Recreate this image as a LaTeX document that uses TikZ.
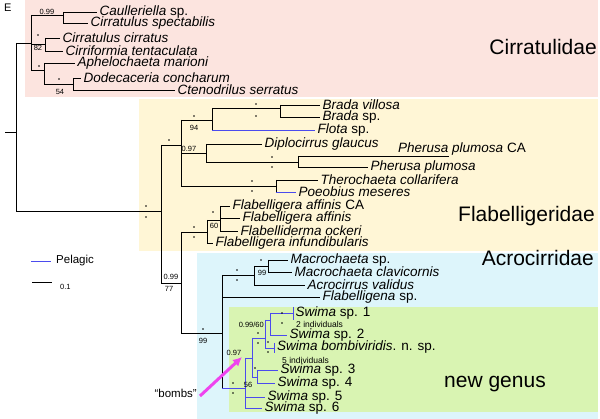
\documentclass[tikz,border=0pt]{standalone}
\usepackage{fontspec}
\setmainfont{Liberation Sans}
\usetikzlibrary{arrows.meta}
\begin{document}
\begin{tikzpicture}[x=1pt,y=-1pt,
  br/.style={line width=0.9pt,black},
  bl/.style={line width=0.9pt,color=pel},
  tl/.style={anchor=west,inner sep=0pt,font=\fontsize{13.5}{14}\selectfont\itshape},
  sl/.style={inner sep=0pt,font=\fontsize{7.5}{8}\selectfont},
  dt/.style={circle,fill=black,inner sep=0pt,minimum size=1.6pt},
  cl/.style={inner sep=0pt,font=\fontsize{21}{24}\selectfont}]
\definecolor{pel}{HTML}{4B4BEE}
\definecolor{pinkbg}{HTML}{FCE4DF}
\definecolor{yelbg}{HTML}{FFF6D6}
\definecolor{cyabg}{HTML}{DDF5FB}
\definecolor{grnbg}{HTML}{D9F4B2}
\definecolor{mag}{HTML}{EE44EE}
\useasboundingbox (0,0) rectangle (600,419);
\fill[pinkbg] (25,0) rectangle (598,97);
\fill[yelbg] (139,99) rectangle (598,251);
\fill[cyabg] (197,253) rectangle (598,419);
\fill[grnbg] (229,307) rectangle (598,412);
\newcommand\tipx[6][br]{\draw[#1] (#2,#4)--(#3,#4); \node[tl] (#6) at (#3+2.5,#4) {#5};}
\newcommand\dd[2]{\node[dt] at (#1,#2) {};}
\node[anchor=west,inner sep=0pt,font=\fontsize{11}{12}\selectfont] (E) at (4,8) {E};
% root
\draw[br] (5,132)--(16,132);
\draw[br] (16,43)--(16,211);
% Cirratulidae
\draw[br] (16,43)--(31,43); \draw[br] (31,15)--(31,70);
\draw[br] (31,15)--(63,15); \draw[br] (63,12)--(63,23);
\tipx{63}{97}{12}{Caulleriella\upshape\ sp.}{t1}
\tipx{63}{88}{23}{Cirratulus spectabilis}{t2}
\draw[br] (31,44)--(45,44); \draw[br] (45,38)--(45,51);
\tipx{45}{60}{38}{Cirratulus cirratus}{t3}
\tipx{45}{63}{51}{Cirriformia tentaculata}{t4}
\draw[br] (31,70)--(44,70); \draw[br] (44,63)--(44,84);
\tipx{44}{75}{63}{Aphelochaeta marioni}{t5}
\draw[br] (44,84)--(73,84); \draw[br] (73,78)--(73,90);
\tipx{73}{81}{78}{Dodecaceria concharum}{t6}
\tipx{73}{175}{90}{Ctenodrilus serratus}{t7}
\node[sl] at (47,12) {0.99};
\dd{38}{35}
\node[sl] at (38,48) {82};
\dd{39}{66}
\dd{59}{79}
\node[sl] at (60,92) {54};
% main lower
\draw[br] (16,211)--(161,211); \draw[br] (161,145)--(161,283);
\dd{146}{206} \dd{146}{217}
% yellow top clade
\draw[br] (161,145)--(181,145); \draw[br] (181,120)--(181,186);
\dd{169}{140}
\draw[br] (181,120)--(212,120); \draw[br] (212,108)--(212,130);
\draw[br] (212,108)--(280,108); \draw[br] (280,105)--(280,117);
\tipx{280}{320}{105}{Brada villosa}{t8}
\tipx{280}{320}{117}{Brada\upshape\ sp.}{t9}
\tipx[bl]{212}{315}{130}{Flota\upshape\ sp.}{t10}
\dd{194}{116} \node[sl] at (194,128) {94};
\dd{256}{104} \dd{256}{116}
\draw[br] (181,153)--(206,153); \draw[br] (206,144)--(206,162);
\tipx{206}{262}{144}{Diplocirrus glaucus}{t11}
\draw[br] (206,162)--(298,162); \draw[br] (298,156)--(298,167);
\draw[br] (298,156)--(449,156);
\node[tl,anchor=base west] (t12) at (398,153) {Pherusa plumosa\upshape\ CA};
\tipx{298}{368}{167}{Pherusa plumosa}{t13}
\node[sl] at (189,149) {0.97};
\dd{272}{157} \dd{272}{167}
\draw[br] (181,186)--(276,186); \draw[br] (276,180)--(276,192);
\tipx{276}{318}{180}{Therochaeta collarifera}{t14}
\tipx[bl]{276}{296}{192}{Poeobius meseres}{t15}
\dd{252}{181} \dd{252}{191}
% B node
\draw[br] (161,283)--(181,283); \draw[br] (181,232)--(181,333);
\node[sl] at (171,277) {0.99}; \node[sl] at (169,289) {77};
\draw[br] (181,232)--(207,232); \draw[br] (207,220)--(207,243);
\dd{194}{227} \dd{194}{237}
\draw[br] (207,220)--(220,220); \draw[br] (220,206)--(220,232);
\tipx{220}{230}{206}{Flabelligera affinis\upshape\ CA}{t16}
\tipx{220}{240}{218}{Flabelligera affinis}{t17}
\tipx{220}{238}{231}{Flabelliderma ockeri}{t18}
\tipx{207}{213}{243}{Flabelligera infundibularis}{t19}
\dd{213}{212} \node[sl] at (214,226) {60};
% C node
\draw[br] (181,333)--(222,333); \draw[br] (222,275)--(222,388);
\dd{203}{329} \node[sl] at (203,341) {99};
\draw[br] (222,275)--(254,275); \draw[br] (254,266)--(254,285);
\dd{237}{270} \dd{237}{280}
\draw[br] (254,266)--(268,266); \draw[br] (268,260)--(268,272);
\tipx{268}{288}{260}{Macrochaeta\upshape\ sp.}{t20}
\tipx{268}{292}{272}{Macrochaeta clavicornis}{t21}
\tipx{254}{305}{285}{Acrocirrus validus}{t22}
\tipx{222}{320}{297}{Flabelligena\upshape\ sp.}{t23}
\dd{261}{260} \node[sl] at (262,273) {99};
% Swima
\draw[bl] (222,388)--(245,388); \draw[bl] (245,358)--(245,408);
\dd{233}{383} \dd{233}{393}
\tipx[bl]{245}{265}{397}{Swima\upshape\ sp. 5}{t24}
\tipx[bl]{245}{262}{408}{Swima\upshape\ sp. 6}{t25}
\draw[bl] (245,358)--(252,358); \draw[bl] (252,338)--(252,377);
\node[sl] at (234,353) {0.97};
\draw[bl] (252,377)--(257,377); \draw[bl] (257,370)--(257,383);
\tipx[bl]{257}{278}{370}{Swima\upshape\ sp. 3}{t26}
\tipx[bl]{257}{275}{383}{Swima\upshape\ sp. 4}{t27}
\dd{255}{368} \node[sl] at (248,385) {56};
\draw[bl] (252,338)--(265,338); \draw[bl] (265,320)--(265,348);
\dd{258}{333} \dd{258}{343}
\draw[bl] (265,320)--(270,320); \draw[bl] (270,313)--(270,335);
\tipx[bl]{270}{293}{313}{Swima\upshape\ sp. 1}{t28}
\draw[bl] (293,307)--(293,320);
\node[sl,anchor=west,font=\fontsize{8.5}{9}\selectfont] (i2) at (296,324) {2 individuals};
\tipx[bl]{270}{287}{335}{Swima\upshape\ sp. 2}{t29}
\node[sl,anchor=east] at (264,325) {0.99/60};
\dd{282}{313} \dd{282}{323}
\draw[bl] (265,348)--(274,348); \draw[bl] (274,343)--(274,353);
\node[tl] (t30) at (277,347) {Swima bombiviridis\upshape. n. sp.};
\node[sl,anchor=west,font=\fontsize{8.5}{9}\selectfont] (i5) at (282,360) {5 individuals};
\dd{268}{342} \dd{268}{352}
% clade labels
\node[cl,anchor=east] (c1) at (597,47) {Cirratulidae};
\node[cl,anchor=east] (c2) at (595,216) {Flabelligeridae};
\node[cl,anchor=east] (c3) at (594,258) {Acrocirridae};
\node[cl] (c4) at (495,384) {new genus};
% legend
\coordinate (pa) at (31,261); \coordinate (pb) at (51,261);
\draw[bl] (pa)--(pb);
\node[anchor=west,inner sep=0pt,font=\fontsize{11.5}{12}\selectfont] (pel) at (56,261) {Pelagic};
\coordinate (sa) at (32,282); \coordinate (sb) at (52,282);
\draw[line width=0.7pt] (sa)--(sb);
\node[anchor=west,inner sep=0pt,font=\fontsize{7.5}{8}\selectfont] (sc) at (60,287) {0.1};
% bombs
\node[anchor=east,inner sep=0pt,font=\fontsize{11.5}{12}\selectfont] (bombs) at (197,393) {“bombs”};
\coordinate (ta) at (200,396); \coordinate (tb) at (242,357);
\draw[mag,line width=3pt,-{Latex[length=9pt,width=9pt]}] (ta)--(tb);
\end{tikzpicture}
\end{document}
